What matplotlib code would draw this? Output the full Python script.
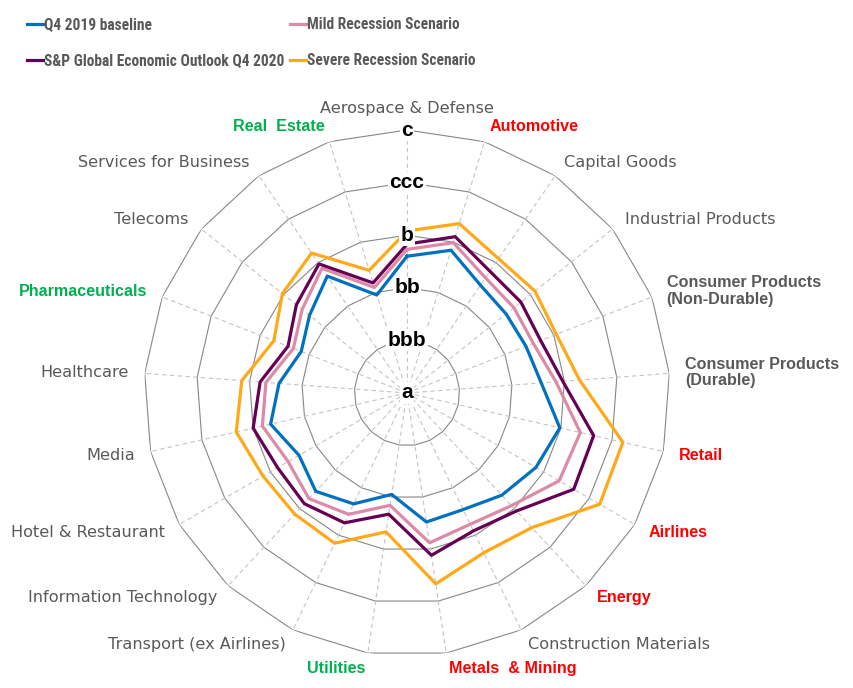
import numpy as np
import matplotlib
matplotlib.use("Agg")
import matplotlib.pyplot as plt
from matplotlib import font_manager as fm
from matplotlib.lines import Line2D
from matplotlib.textpath import TextPath

# sectors, clockwise from the top
categories = [
    "Aerospace & Defense", "Automotive", "Capital Goods", "Industrial Products",
    "Consumer Products\n(Non-Durable)", "Consumer Products\n(Durable)", "Retail",
    "Airlines", "Energy", "Construction Materials", "Metals  & Mining", "Utilities",
    "Transport (ex Airlines)", "Information Technology", "Hotel & Restaurant",
    "Media", "Healthcare", "Pharmaceuticals", "Telecoms", "Services for Business",
    "Real  Estate",
]
red_sectors = ["Automotive", "Retail", "Airlines", "Energy", "Metals  & Mining"]
green_sectors = ["Real  Estate", "Pharmaceuticals", "Utilities"]
bold_gray = ["Consumer Products\n(Non-Durable)", "Consumer Products\n(Durable)"]

# rating scale: a=0 ... c=5
rating_labels = ["a", "bbb", "bb", "b", "ccc", "c"]

baseline = [2.60, 2.84, 2.48, 2.41, 2.43, 2.56, 2.98, 2.83, 2.65, 2.46, 2.48,
            1.95, 2.34, 2.55, 2.37, 2.66, 2.44, 2.16, 2.37, 2.69, 1.95]
mild = [2.73, 2.99, 2.65, 2.60, 2.58, 2.84, 3.38, 3.34, 2.92, 2.77, 2.88,
        2.16, 2.56, 2.74, 2.61, 2.82, 2.69, 2.32, 2.55, 2.87, 2.10]
outlook = [2.83, 3.11, 2.80, 2.77, 2.73, 2.97, 3.64, 3.66, 3.06, 2.91, 3.12,
           2.33, 2.74, 2.87, 2.84, 3.00, 2.80, 2.43, 2.69, 2.97, 2.19]
severe = [3.08, 3.37, 3.09, 3.11, 3.05, 3.29, 4.21, 4.23, 3.49, 3.37, 3.67,
          2.67, 3.17, 3.14, 3.16, 3.33, 3.15, 2.72, 3.03, 3.22, 2.44]

series = [
    ("Q4 2019 baseline", baseline, "#0070C0"),
    ("Mild Recession Scenario", mild, "#DC8AA6"),
    ("S&P Global Economic Outlook Q4 2020", outlook, "#650054"),
    ("Severe Recession Scenario", severe, "#FFA918"),
]


def pick_legend_font():
    # the legend uses a narrow bold face; look for one, else plain bold
    files = [f.fname for f in fm.fontManager.ttflist]
    prefs = ["liberationsansnarrow-bold.", "robotocondensed-bold.",
             "dejavusanscondensed-bold.", "notosans-condensedbold.",
             "opensans-condensedbold.", "opensanscondensed-bold."]
    for p in prefs:
        for fn in files:
            if fn.lower().replace(" ", "").endswith(p + "ttf"):
                return fm.FontProperties(fname=fn)
    for fn in files:
        low = fn.lower()
        if ("narrow" in low or "condensed" in low) and "bold" in low \
                and "italic" not in low and "oblique" not in low and "semi" not in low \
                and "extra" not in low:
            return fm.FontProperties(fname=fn)
    return fm.FontProperties(family="Liberation Sans", weight="bold")


leg_prop = pick_legend_font()
# fit the longest entry to roughly its width in the picture
tp = TextPath((0, 0), "S&P Global Economic Outlook Q4 2020", size=10, prop=leg_prop)
w10 = tp.get_extents().width * 100 / 72
leg_size = min(12.0, 10 * 240 / w10)
leg_prop.set_size(leg_size)

W, H = 854, 688
fig = plt.figure(figsize=(W / 100, H / 100), dpi=100)
cx, cy, R = 407, 393, 263
ax = fig.add_axes([(cx - R) / W, (H - cy - R) / H, 2 * R / W, 2 * R / H], polar=True)
ax.set_theta_zero_location("N")
ax.set_theta_direction(-1)
ax.set_ylim(0, 5)
ax.set_xticks([])
ax.set_yticks([])
ax.grid(False)
ax.spines["polar"].set_visible(False)

n = len(categories)
angles = np.arange(n) * 2 * np.pi / n
closed = np.append(angles, angles[0])

# polygon gridlines and dashed spokes
for lvl in range(1, 6):
    ax.plot(closed, [lvl] * (n + 1), color="#878787", lw=0.8, zorder=1)
for a in angles:
    ax.plot([a, a], [0, 5], color="#C4C4C4", lw=0.8, ls=(0, (4, 3)), zorder=1)

for name, vals, col in series:
    ax.plot(closed, np.append(vals, vals[0]), color=col, lw=2.3, zorder=3)

for lvl, lab in enumerate(rating_labels):
    ax.text(0, lvl, lab, ha="center", va="center", fontsize=15,
            fontweight="bold", family="Liberation Sans", color="black",
            bbox=dict(fc="white", ec="none", pad=1.0), zorder=10)

# sector labels outside the outer polygon
for i, cat in enumerate(categories):
    th = angles[i]
    s, c = np.sin(th), np.cos(th)
    off = 22 if i == 0 else 16
    if s > 0.02:
        ha = "left"
    elif s < -0.02:
        ha = "right"
    else:
        ha = "center"
    if cat in red_sectors:
        kw = dict(color="#FF0000", fontweight="bold", family="Liberation Sans", fontsize=11.6)
    elif cat in green_sectors:
        kw = dict(color="#00B050", fontweight="bold", family="Liberation Sans", fontsize=11.6)
    elif cat in bold_gray:
        kw = dict(color="#595959", fontweight="bold", family="Liberation Sans", fontsize=11.6)
    else:
        kw = dict(color="#595959", family="DejaVu Sans", fontsize=11.6)
    ax.annotate(cat, xy=(th, 5), xytext=(off * s * 0.72, off * c * 0.72),
                textcoords="offset points", ha=ha, va="center",
                multialignment="left", linespacing=1.1, annotation_clip=False, **kw)

handles = [Line2D([], [], color=col, lw=2.3) for _, _, col in series]
labels = [name for name, _, _ in series]
order = [0, 2, 1, 3]
fs_px = leg_size * 100 / 72
leg = fig.legend([handles[k] for k in order], [labels[k] for k in order],
                 loc="upper left", bbox_to_anchor=(27 / W, 1 - 17 / H), ncol=2,
                 frameon=False, borderpad=0, borderaxespad=0,
                 handlelength=16 / fs_px, handletextpad=1.5 / fs_px,
                 columnspacing=5 / fs_px, labelspacing=(37 - fs_px * 1.2) / fs_px + 0.2,
                 prop=leg_prop)
for t in leg.get_texts():
    t.set_color("#595959")

fig.savefig("out.png", dpi=100, facecolor="white")
